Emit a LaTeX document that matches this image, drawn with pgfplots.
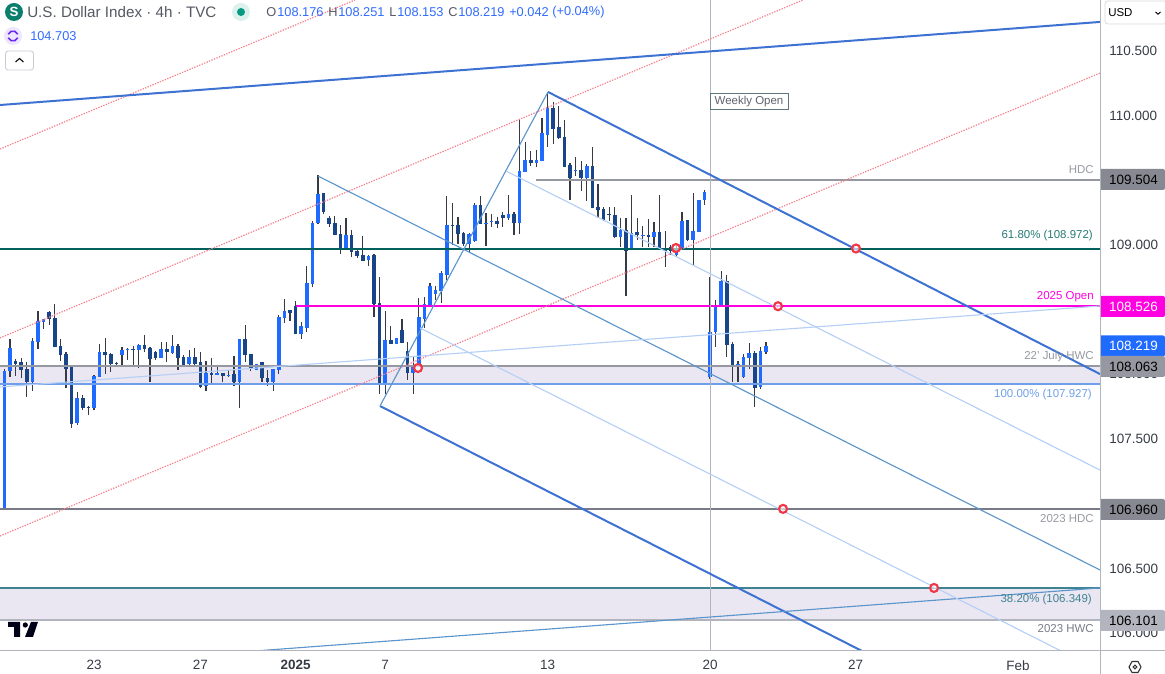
\documentclass[border=0pt]{standalone}
\usepackage{fontspec}
\setmainfont{Liberation Sans}
\usepackage{pgfplots}
\usepackage{pgfplotstable}
\pgfplotsset{compat=1.18}

\definecolor{upbody}{HTML}{1F6BFF}
\definecolor{downbody}{HTML}{1A4488}
\definecolor{wick}{HTML}{363A45}
\definecolor{zone}{HTML}{EAE7F2}
\definecolor{chan}{HTML}{3E72D2}
\definecolor{fork}{HTML}{5C95CB}
\definecolor{forklight}{HTML}{B6CFF6}
\definecolor{reddot}{HTML}{F7808F}
\definecolor{tealdark}{HTML}{00615C}
\definecolor{tealthin}{HTML}{3F8292}
\definecolor{magentaline}{HTML}{FF00E0}
\definecolor{greyline}{HTML}{9598A1}
\definecolor{greydark}{HTML}{787B86}
\definecolor{greylight}{HTML}{B2B5BE}
\definecolor{blueline}{HTML}{6F9FE8}
\definecolor{ring}{HTML}{F23645}
\definecolor{legendblue}{HTML}{2F6BFF}
\definecolor{legendgrey}{HTML}{555862}
\definecolor{iconteal}{HTML}{0B7F6E}
\definecolor{dotteal}{HTML}{089981}
\definecolor{iconviolet}{HTML}{6A2CF0}

% x is the 4h bar number, y is the index level
\pgfplotstableread{
x o h l c
0 106.960 108.040 106.950 108.025
1 108.025 108.273 107.982 108.203
5 107.940 108.278 107.871 108.257
6 108.250 108.489 108.195 108.412
7 108.404 108.429 108.350 108.427
13 107.624 107.863 107.608 107.817
16 107.740 107.995 107.724 107.987
17 107.979 108.234 107.977 108.172
21 108.149 108.211 108.072 108.188
22 108.188 108.203 108.110 108.195
24 108.188 108.234 108.049 108.226
28 108.126 108.250 108.124 108.195
30 108.165 108.304 108.157 108.219
33 108.080 108.188 108.072 108.134
36 107.910 108.103 107.871 108.010
38 107.995 108.056 107.993 108.010
40 107.987 108.033 107.979 107.995
42 107.940 108.275 107.740 108.273
45 108.033 108.082 108.031 108.080
48 107.940 108.043 107.871 108.041
49 108.033 108.458 108.002 108.443
50 108.435 108.582 108.396 108.489
53 108.312 108.404 108.276 108.373
54 108.358 108.837 108.327 108.706
55 108.698 109.185 108.675 109.169
56 109.169 109.540 109.162 109.394
61 108.961 109.208 108.959 109.077
65 108.883 108.922 108.837 108.914
68 107.933 108.489 107.848 108.265
70 108.234 108.283 108.232 108.281
73 108.010 108.141 107.848 108.064
74 108.072 108.590 108.059 108.443
75 108.428 108.597 108.358 108.543
76 108.536 108.706 108.534 108.682
77 108.621 108.682 108.574 108.651
78 108.644 108.798 108.551 108.783
79 108.767 109.378 108.729 109.154
83 109.007 109.092 108.945 109.084
84 109.030 109.324 109.023 109.309
86 109.162 109.247 108.992 109.169
87 109.177 109.239 109.138 109.185
90 109.208 109.386 109.193 109.239
92 109.169 109.973 109.084 109.571
93 109.563 109.795 109.560 109.656
95 109.633 109.733 109.602 109.656
96 109.648 109.981 109.646 109.865
97 109.849 110.174 109.757 110.058
102 109.571 109.679 109.533 109.579
104 109.517 109.625 109.339 109.610
110 109.061 109.208 108.984 109.115
112 108.961 109.386 108.959 109.092
114 109.069 109.146 108.984 109.076
116 109.061 109.177 108.984 109.100
120 108.922 108.999 108.907 108.974
121 108.976 109.254 108.974 109.185
123 109.038 109.401 108.837 109.108
124 109.100 109.348 109.098 109.347
125 109.347 109.425 109.309 109.409
126 107.979 108.754 107.963 108.327
127 108.327 108.574 108.211 108.528
128 108.528 108.798 108.526 108.721
131 108.064 108.103 107.940 108.079
132 107.979 108.157 107.971 108.133
133 108.126 108.242 108.041 108.164
135 107.902 108.211 107.886 108.180
136 108.176 108.251 108.153 108.219
}\upbars

\pgfplotstableread{
x o h l c
2 108.103 108.118 107.987 108.080
3 108.095 108.126 107.971 108.033
4 108.041 108.095 107.825 107.940
8 108.481 108.489 108.381 108.427
9 108.435 108.543 108.209 108.211
10 108.219 108.273 108.103 108.149
11 108.157 108.172 107.894 108.041
12 108.064 108.066 107.585 107.616
14 107.817 107.840 107.724 107.740
15 107.750 107.755 107.685 107.742
18 108.172 108.280 108.002 108.149
19 108.157 108.165 108.018 108.080
20 108.087 108.095 108.072 108.080
23 108.195 108.219 108.072 108.188
25 108.226 108.304 108.172 108.195
26 108.203 108.211 107.940 108.118
27 108.172 108.180 108.110 108.126
29 108.195 108.250 108.095 108.172
31 108.219 108.234 108.033 108.126
32 108.134 108.149 108.070 108.072
34 108.134 108.203 108.072 108.080
35 108.095 108.172 107.894 107.902
37 108.010 108.126 107.917 107.995
39 108.010 108.012 107.940 107.987
41 108.002 108.141 107.910 107.940
43 108.273 108.381 108.095 108.149
44 108.157 108.159 108.025 108.041
46 108.095 108.097 107.940 107.971
47 107.971 108.033 107.910 107.940
51 108.497 108.499 108.412 108.474
52 108.528 108.566 108.309 108.311
57 109.401 109.403 109.239 109.254
58 109.208 109.224 109.139 109.162
59 109.169 109.224 109.075 109.077
60 109.084 109.154 108.930 108.961
62 109.077 109.115 108.907 108.945
63 108.953 108.968 108.899 108.914
64 108.922 109.069 108.874 108.876
66 108.922 108.930 108.443 108.543
67 108.551 108.752 107.848 107.917
69 108.265 108.373 108.232 108.234
71 108.342 108.428 108.240 108.242
72 108.180 108.250 107.956 108.010
80 109.154 109.324 108.999 109.146
81 109.154 109.216 109.007 109.084
82 109.092 109.100 108.992 109.007
85 109.309 109.378 109.160 109.162
88 109.185 109.216 109.131 109.162
89 109.231 109.254 109.138 109.208
91 109.239 109.254 109.076 109.169
94 109.656 109.726 109.610 109.633
98 110.058 110.104 109.780 109.896
99 109.911 110.073 109.818 109.826
100 109.834 109.965 109.600 109.602
101 109.618 109.633 109.347 109.517
103 109.579 109.648 109.416 109.517
105 109.610 109.757 109.283 109.285
106 109.293 109.471 109.208 109.270
107 109.278 109.293 109.185 109.193
108 109.239 109.293 109.185 109.231
109 109.231 109.293 109.053 109.061
111 109.115 109.208 108.605 108.953
113 109.100 109.208 109.038 109.076
115 109.076 109.200 108.984 109.061
117 109.100 109.386 108.961 108.976
118 108.976 109.108 108.830 108.953
119 108.984 108.999 108.922 108.953
122 109.193 109.195 109.030 109.038
129 108.721 108.767 108.133 108.226
130 108.234 108.249 107.940 108.072
134 108.164 108.180 107.747 107.894
}\downbars

\newcommand{\lblfont}{\fontsize{8.6}{10}\selectfont}
\newcommand{\axfont}{\fontsize{10.1}{12}\selectfont}
\newcommand{\hdrfont}{\fontsize{9.6}{12}\selectfont}

\begin{document}
\begin{tikzpicture}
\path[use as bounding box] (0,-17.25pt) rectangle (873.75pt,488.25pt);
\begin{axis}[
    at={(0,0)}, anchor=south west,
    scale only axis, width=825pt, height=488.25pt,
    xmin=-0.786, xmax=195.64,
    ymin=105.8617, ymax=110.8926,
    axis x line=bottom, axis y line=right,
    axis line style={-, draw=greylight, line width=0.75pt},
    major tick length=0pt,
    clip mode=individual,
    ytick={106,106.5,107.5,108,109,110,110.5},
    xtick={16,35,52,68,97,126,152,181},
    xticklabels={23,27,\textbf{2025},7,13,20,27,Feb},
    yticklabel style={font=\axfont, text=wick, anchor=west, xshift=3.5pt,
        /pgf/number format/fixed, /pgf/number format/fixed zerofill,
        /pgf/number format/precision=3, /pgf/number format/1000 sep={},
        /pgf/number format/assume math mode=true},
    xticklabel style={font=\axfont, text=wick, yshift=-3.5pt},
    wicks/.style={draw=none, no marks, forget plot, error bars/.cd, y dir=both, y explicit,
        error mark=none, error bar style={draw=wick, line width=0.8pt}},
    bodies/.style={draw=none, no marks, forget plot, error bars/.cd, y dir=both, y explicit,
        error mark=none, error bar style={draw=#1, line width=2.8pt}},
    level/.style={no marks, forget plot, line width=#1},
]
% shaded zones
\addplot[fill=zone, draw=none, forget plot] coordinates {(-0.786,108.063) (195.64,108.063) (195.64,107.927) (-0.786,107.927)} -- cycle;
\addplot[fill=zone, draw=none, forget plot] coordinates {(-0.786,106.349) (195.64,106.349) (195.64,106.101) (-0.786,106.101)} -- cycle;

% candles
\addplot[wicks] table[x=x, y=l, y error plus expr=\thisrow{h}-\thisrow{l}, y error minus expr=0] {\upbars};
\addplot[wicks] table[x=x, y=l, y error plus expr=\thisrow{h}-\thisrow{l}, y error minus expr=0] {\downbars};
\addplot[bodies=upbody] table[x=x, y=o, y error plus expr=\thisrow{c}-\thisrow{o}, y error minus expr=0] {\upbars};
\addplot[bodies=downbody] table[x=x, y=c, y error plus expr=\thisrow{o}-\thisrow{c}, y error minus expr=0] {\downbars};

% horizontal levels
\addplot[level=1.5pt, color=tealdark] coordinates {(-0.786,108.972) (195.64,108.972)};
\addplot[level=1.5pt, color=greyline] coordinates {(94.93,109.504) (195.64,109.504)};
\addplot[level=1.5pt, color=magentaline] coordinates {(52.07,108.526) (195.64,108.526)};
\addplot[level=1.5pt, color=greyline] coordinates {(-0.786,108.063) (195.64,108.063)};
\addplot[level=1.5pt, color=blueline] coordinates {(-0.786,107.927) (195.64,107.927)};
\addplot[level=1.5pt, color=greydark] coordinates {(-0.786,106.960) (195.64,106.960)};
\addplot[level=1.2pt, color=tealthin] coordinates {(-0.786,106.349) (195.64,106.349)};
\addplot[level=1.5pt, color=greylight] coordinates {(-0.786,106.101) (195.64,106.101)};
\addplot[level=0.75pt, color=greylight] coordinates {(126,105.8617) (126,110.8926)};

% dotted parallels
\addplot[level=0.9pt, color=reddot, dash pattern=on 1pt off 1pt] coordinates {(-0.786,109.741) (62.6,110.8926)};
\addplot[level=0.9pt, color=reddot, dash pattern=on 1pt off 1pt] coordinates {(-0.786,108.281) (142.6,110.8926)};
\addplot[level=0.9pt, color=reddot, dash pattern=on 1pt off 1pt] coordinates {(-0.786,106.750) (195.64,110.328)};

% trend lines and pitchfork
\addplot[level=1.5pt, color=chan] coordinates {(-0.786,110.081) (195.64,110.723)};
\addplot[level=1.5pt, color=chan] coordinates {(97.07,110.182) (195.64,108.002)};
\addplot[level=1.5pt, color=chan] coordinates {(67.07,107.755) (153.14,105.8617)};
\addplot[level=0.85pt, color=fork] coordinates {(67.07,107.755) (97.07,110.182)};
\addplot[level=0.85pt, color=fork] coordinates {(56.0,109.532) (195.64,106.488)};
\addplot[level=0.85pt, color=fork] coordinates {(44.75,105.8617) (195.64,106.349)};
\addplot[level=0.85pt, color=forklight] coordinates {(89.57,109.571) (195.64,107.260)};
\addplot[level=0.85pt, color=forklight] coordinates {(74.21,108.358) (188.7,105.8617)};
\addplot[level=0.85pt, color=forklight] coordinates {(-0.786,107.902) (195.64,108.528)};

% touch points
\addplot[only marks, forget plot, mark=*, mark size=3pt,
    mark options={draw=ring, line width=1.6pt, fill=white, fill opacity=0.6}]
    coordinates {(73.86,108.049) (119.93,108.976) (138.14,108.526) (152.07,108.972) (139.04,106.960) (166.0,106.349)};
\end{axis}

% everything below is placed in reference pixels
\begin{scope}[x=0.75pt, y=-0.75pt, yshift=488.25pt]
\draw[greylight, line width=0.75pt] (0,651) -- (1165,651);
\draw[greylight, line width=0.75pt] (1100,0) -- (1100,674);

% level labels
\begin{scope}[every node/.style={anchor=east, inner sep=0pt, font=\lblfont}]
\node[text=greylight!85!black] at (1094,170) {HDC};
\node[text=tealdark!85!white] at (1093,236) {61.80\% (108.972)};
\node[text=magentaline] at (1094,297) {2025 Open};
\node[text=greyline] at (1094,357) {22' July HWC};
\node[text=blueline] at (1092,395) {100.00\% (107.927)};
\node[text=greylight!85!black] at (1094,519) {2023 HDC};
\node[text=tealthin] at (1092,600) {38.20\% (106.349)};
\node[text=greydark] at (1094,629) {2023 HWC};
\end{scope}

\node[draw=greydark!80!tealdark, fill=white, line width=0.7pt, inner xsep=1.5pt, inner ysep=1.5pt,
    minimum width=58.5pt, minimum height=12.5pt, text=greydark!80!black, font=\lblfont] at (749,101.5) {Weekly Open};

% price tags
\newcommand{\tag}[4]{\fill[#2] (1101,#1-10.5) [rounded corners=1.5pt] -- (1165,#1-10.5) -- (1165,#1+10.5) [sharp corners] -- (1101,#1+10.5) -- cycle;
  \node[text=#3, font=\axfont, inner sep=0pt] at (1133.5,#1) {#4};}
\tag{179.5}{greyline!90!black}{black}{109.504}
\tag{306.5}{magentaline}{white}{108.526}
\tag{346}{upbody}{white}{108.219}
\tag{366.5}{greyline}{black}{108.063}
\tag{509.5}{greyline!90!black}{black}{106.960}
\tag{620.5}{greylight}{black}{106.101}

% currency button
\draw[greylight!50!white, line width=0.6pt, fill=white, rounded corners=2.2pt] (1105,1) rectangle (1167,24);
\node[anchor=west, inner sep=0pt, font=\fontsize{8.6}{10}\selectfont, text=black] at (1108,12.5) {USD};
\draw[black, line width=0.7pt] (1155.5,12) -- (1158,14.2) -- (1160.5,12);

% header lines
\fill[iconteal] (14,12) circle (9);
\node[text=white, inner sep=0pt, font=\bfseries\fontsize{10}{12}\selectfont] at (14,12) {S};
\node[anchor=west, inner sep=0pt, text=legendgrey, font=\fontsize{11.4}{13}\selectfont] at (27,12) {U.S. Dollar Index · 4h · TVC};
\fill[dotteal!14!white] (241,12) circle (9);
\fill[dotteal] (241,12) circle (4);
\begin{scope}[every node/.style={anchor=west, inner sep=0pt, font=\hdrfont, text=legendblue}]
\node[text=legendgrey] at (266,12) {O};
\node at (277,12) {108.176};
\node[text=legendgrey] at (328,12) {H};
\node at (338,12) {108.251};
\node[text=legendgrey] at (389,12) {L};
\node at (397,12) {108.153};
\node[text=legendgrey] at (448,12) {C};
\node at (458,12) {108.219};
\node at (509,12) {+0.042};
\node at (552,12) {(+0.04\%)};
\node at (30,36) {104.703};
\end{scope}
\fill[iconviolet!12!white] (13,36) circle (9);
\draw[iconviolet, line width=1.2pt] (13,36) ++(20:5) arc (20:160:5);
\draw[iconviolet, line width=1.2pt] (13,36) ++(200:5) arc (200:340:5);
\draw[greylight!70!white, line width=0.6pt, fill=white, rounded corners=2pt] (5.5,51) rectangle (33.5,70);
\draw[black, line width=0.8pt] (15.5,62) -- (19.5,58.5) -- (23.5,62);

% logo and settings icon
\fill[black!90!blue] (8,622) -- (20,622) -- (20,637) -- (14,637) -- (14,627) -- (8,627) -- cycle;
\fill[black!90!blue] (25.3,625) circle (2.6);
\fill[black!90!blue] (31,622) -- (38,622) -- (33,637) -- (25,637) -- cycle;
\draw[black!80, line width=0.8pt] (1129,667) -- (1132,661.5) -- (1138,661.5) -- (1141,667) -- (1138,672.5) -- (1132,672.5) -- cycle;
\draw[black!80, line width=0.8pt] (1135,667) circle (1.8);
\end{scope}
\end{tikzpicture}
\end{document}
